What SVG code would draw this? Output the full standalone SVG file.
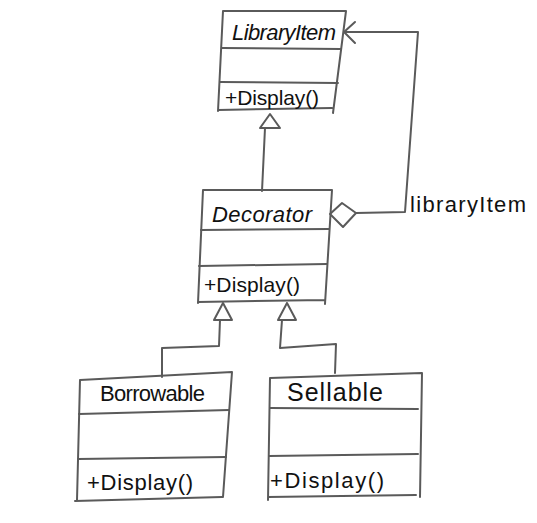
<svg xmlns="http://www.w3.org/2000/svg" width="537" height="523" viewBox="0 0 537 523">
<style>
.ln{fill:none;stroke:#5a5a5a;stroke-width:2;stroke-linejoin:round;stroke-linecap:round}
.hd{fill:#fff;stroke:#5a5a5a;stroke-width:2;stroke-linejoin:round}
.t{font-family:"Liberation Sans",Arial,sans-serif;fill:#111}
</style>
<rect width="537" height="523" fill="#fff"/>
<g id="connectors">
  <path class="ln" d="M265,128 L262,191"/>
  <polygon class="hd" points="270,114 260,128 280,128"/>
  <path class="ln" d="M344,32 L418,32 L405,212 L356,213"/>
  <path class="ln" d="M355,22 L344,32 L355,43"/>
  <polygon class="hd" points="330,214 342,203 356,213 343,227"/>
  <path class="ln" d="M220,320 L219,346 L162,348 L162,377"/>
  <polygon class="hd" points="223,303 214,320 232,320"/>
  <path class="ln" d="M282,320 L280,348 L336,344 L335,373"/>
  <polygon class="hd" points="287,303 278,320 296,320"/>
</g>
<g id="libraryItem">
  <path class="ln" d="M223,11 L346,11 L333,113 M218,111 L223,11 M218,110 L332,108"/>
  <path class="ln" d="M222,48 L341,49 M220,82 L338,83"/>
  <text class="t" x="232" y="40" font-size="22" textLength="104" font-style="italic">LibraryItem</text>
  <text class="t" x="225" y="105" font-size="21" textLength="94">+Display()</text>
</g>
<g id="decorator">
  <path class="ln" d="M203,190 L332,190 L325,304 M198,303 L203,190 M198,302 L325,300"/>
  <path class="ln" d="M201,230 L329,229 M199,266 L327,264"/>
  <text class="t" x="212" y="222" font-size="22" textLength="100" font-style="italic">Decorator</text>
  <text class="t" x="204" y="292" font-size="21" textLength="96">+Display()</text>
</g>
<g id="borrowable">
  <path class="ln" d="M80,380 L232,372 L223,497 M77,500 L80,380 M75,501 L222,497"/>
  <path class="ln" d="M79,414 L229,410 M78,459 L226,457"/>
  <text class="t" x="100" y="401" font-size="22" textLength="105">Borrowable</text>
  <text class="t" x="87" y="490" font-size="22" textLength="106">+Display()</text>
</g>
<g id="sellable">
  <path class="ln" d="M270,378 L422,373 L420,497 M268,500 L270,378 M268,497 L416,495"/>
  <path class="ln" d="M270,408 L418,409 M269,456 L418,454"/>
  <text class="t" x="287" y="401" font-size="25" textLength="96">Sellable</text>
  <text class="t" x="270" y="488" font-size="22" textLength="114">+Display()</text>
</g>
<text class="t" x="410" y="212" font-size="22" textLength="116">libraryItem</text>
</svg>
